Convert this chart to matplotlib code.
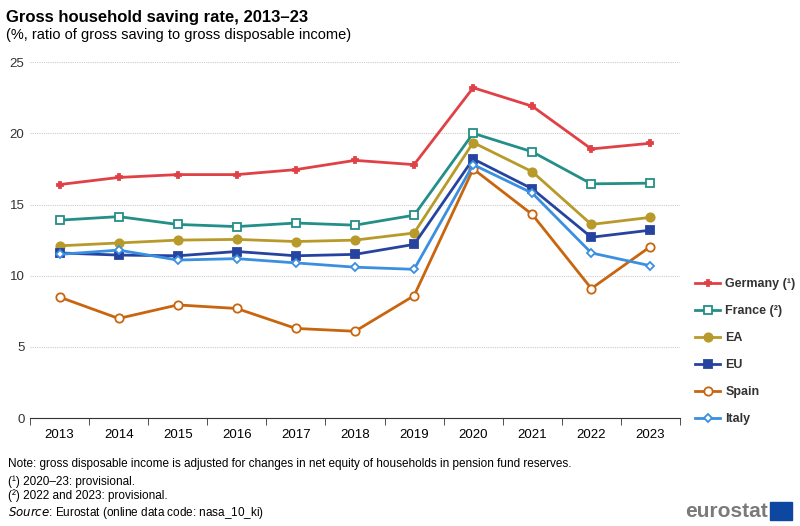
import matplotlib
matplotlib.use("Agg")
import matplotlib.pyplot as plt
from matplotlib.lines import Line2D

plt.rcParams['font.family'] = ['Liberation Sans', 'DejaVu Sans']

years = [2013, 2014, 2015, 2016, 2017, 2018, 2019, 2020, 2021, 2022, 2023]
germany = [16.4, 16.9, 17.1, 17.1, 17.45, 18.1, 17.8, 23.2, 21.9, 18.9, 19.3]
france = [13.9, 14.15, 13.6, 13.45, 13.7, 13.55, 14.25, 20.0, 18.7, 16.45, 16.5]
ea = [12.1, 12.3, 12.5, 12.55, 12.4, 12.5, 13.0, 19.35, 17.3, 13.6, 14.1]
eu = [11.6, 11.45, 11.4, 11.7, 11.4, 11.5, 12.2, 18.2, 16.1, 12.7, 13.2]
spain = [8.5, 7.0, 7.95, 7.7, 6.3, 6.1, 8.6, 17.5, 14.3, 9.1, 12.05]
italy = [11.5, 11.8, 11.1, 11.2, 10.9, 10.6, 10.45, 17.8, 15.8, 11.6, 10.7]

series = [
    ("Germany (¹)", germany, "#e04146", "P", True),
    ("France (²)", france, "#238f88", "s", False),
    ("EA", ea, "#b89a2a", "o", True),
    ("EU", eu, "#2643a0", "s", True),
    ("Spain", spain, "#c8650e", "o", False),
    ("Italy", italy, "#3a8fe0", "D", False),
]

def msize(m):
    return {"P": 4.5, "s": 5.5, "o": 6, "D": 4.5}[m]

fig = plt.figure(figsize=(8, 5.26), dpi=100)
ax = fig.add_axes([0.0375, 0.205, 0.8125, 0.677])
x = list(range(len(years)))
for name, vals, col, mk, filled in series:
    ax.plot(x, vals, color=col, lw=2, marker=mk, markersize=msize(mk),
            markerfacecolor=col if filled else "white", markeredgecolor=col,
            markeredgewidth=1.3, zorder=3)

ax.set_xlim(-0.5, len(years) - 0.5)
ax.set_ylim(0, 25)
ax.set_yticks([0, 5, 10, 15, 20, 25])
ax.set_xticks(x)
ax.set_xticklabels([str(y) for y in years])
ax.set_xticks([i - 0.5 for i in range(len(years) + 1)], minor=True)
ax.tick_params(axis='x', which='major', length=0, labelsize=9.5, pad=8)
ax.tick_params(axis='x', which='minor', length=5, color='#333333')
ax.tick_params(axis='y', length=0, labelsize=9.5, colors='#333333', pad=4)
ax.grid(axis='y', color='#cccccc', ls=(0, (1, 1)), lw=0.8)
for s in ['top', 'right', 'left']:
    ax.spines[s].set_visible(False)
ax.spines['bottom'].set_color('#333333')
ax.set_axisbelow(True)

handles = [Line2D([0], [0], color=c, lw=2, marker=m, markersize=msize(m),
                  markerfacecolor=c if f else "white", markeredgecolor=c, markeredgewidth=1.3)
           for _, _, c, m, f in series]
leg = fig.legend(handles, [s[0] for s in series], loc='upper left',
                 bbox_to_anchor=(0.855, 0.492), frameon=False, fontsize=9,
                 labelspacing=1.2, handlelength=2.0, handletextpad=0.4)
for t in leg.get_texts():
    t.set_fontweight('bold')
    t.set_color('#333333')

fig.text(0.008, 0.967, "Gross household saving rate, 2013–23", fontsize=12,
         fontweight='bold', va='center')
fig.text(0.008, 0.934, "(%, ratio of gross saving to gross disposable income)",
         fontsize=10.5, va='center')
fig.text(0.01, 0.118, "Note: gross disposable income is adjusted for changes in net equity of households in pension fund reserves.",
         fontsize=8.5, va='center')
fig.text(0.01, 0.085, "(¹) 2020–23: provisional.", fontsize=8.5, va='center')
fig.text(0.01, 0.057, "(²) 2022 and 2023: provisional.", fontsize=8.5, va='center')
fig.text(0.01, 0.024, r"$\it{Source}$: Eurostat (online data code: nasa_10_ki)", fontsize=8.5, va='center')
fig.text(0.96, 0.028, "eurostat", fontsize=15, fontweight='bold', color='#7a7a7a',
         ha='right', va='center')
fig.patches.append(plt.Rectangle((0.963, 0.012), 0.027, 0.033, transform=fig.transFigure,
                                 color='#0e47a1', figure=fig))

fig.savefig("out.png", dpi=100)
